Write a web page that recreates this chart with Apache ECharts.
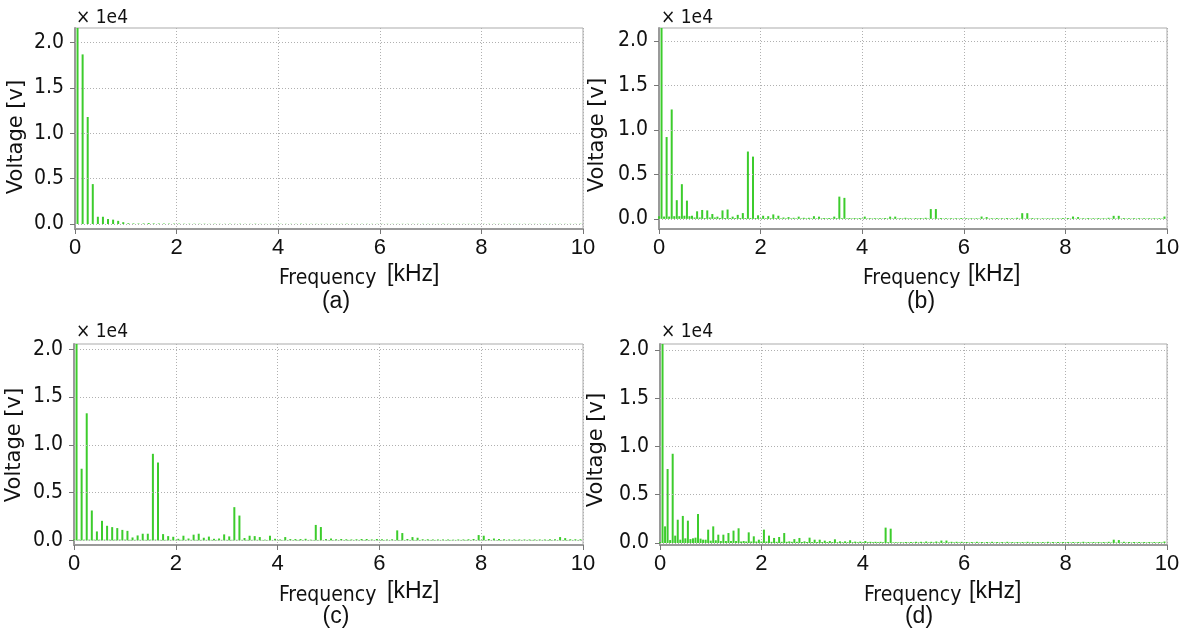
<!DOCTYPE html>
<html>
<head>
<meta charset="utf-8">
<script src="https://cdn.jsdelivr.net/npm/echarts@6/dist/echarts.min.js"></script>
<style>
html,body{margin:0;padding:0;background:#ffffff;}
#chart{width:1192px;height:631px;}
</style>
</head>
<body>
<div id="chart"></div>
<script>
// ---------------- DATA ----------------
// Harmonic grid: one bin every 0.05 kHz (50 Hz), 200 bins from 0 to 9.95 kHz.
const binStepKHz = 0.05;
// Values are in units of 1e4 V (as shown by the "× 1e4" axis multiplier).
// Each row below covers 1 kHz (20 bins).
const spectrumA = [
  0,2.5,0,1.87,0,1.18,0,0.44,0,0.08,0,0.08,0,0.055,0,0.048,0,0.035,0,0.02,
  0,0.008,0,0.006,0,0.005,0,0.006,0,0.01,0,0.006,0,0.005,0,0.005,0,0.004,0,0.004,
  0,0.004,0,0.003,0,0.003,0,0.003,0,0.003,0,0.003,0,0.002,0,0.003,0,0.002,0,0.002,
  0,0.003,0,0.002,0,0.003,0,0.002,0,0.002,0,0.003,0,0.002,0,0.002,0,0.002,0,0.002,
  0,0.002,0,0.002,0,0.002,0,0.002,0,0.003,0,0.002,0,0.002,0,0.002,0,0.002,0,0.002,
  0,0.002,0,0.002,0,0.002,0,0.003,0,0.002,0,0.002,0,0.002,0,0.002,0,0.002,0,0.002,
  0,0.002,0,0.002,0,0.002,0,0.002,0,0.002,0,0.002,0,0.002,0,0.002,0,0.002,0,0.002,
  0,0.002,0,0.002,0,0.003,0,0.002,0,0.002,0,0.002,0,0.002,0,0.002,0,0.002,0,0.002,
  0,0.002,0,0.002,0,0.002,0,0.002,0,0.002,0,0.002,0,0.002,0,0.002,0,0.002,0,0.002,
  0,0.002,0,0.002,0,0.002,0,0.002,0,0.002,0,0.002,0,0.002,0,0.002,0,0.002,0,0.003
];
const spectrumB = [
  0.03,2.5,0.026,0.92,0.026,1.23,0.03,0.21,0.03,0.39,0.035,0.205,0.03,0.035,0.015,0.085,0.015,0.10,0.01,0.095,
  0.015,0.055,0.015,0.025,0.01,0.095,0.01,0.105,0.01,0.025,0.01,0.045,0.01,0.065,0.01,0.757,0.01,0.70,0.01,0.04,
  0.008,0.035,0.008,0.03,0.008,0.05,0.008,0.035,0.006,0.015,0.006,0.02,0.006,0.012,0.006,0.025,0.006,0.012,0.006,0.012,
  0.006,0.03,0.006,0.025,0.006,0.01,0.006,0.01,0.006,0.025,0.008,0.25,0.008,0.236,0.006,0.01,0.005,0.01,0.005,0.01,
  0.005,0.025,0.005,0.008,0.005,0.008,0.005,0.008,0.005,0.01,0.005,0.025,0.005,0.025,0.005,0.008,0.005,0.012,0.005,0.008,
  0.005,0.01,0.005,0.01,0.005,0.012,0.005,0.11,0.005,0.11,0.005,0.01,0.004,0.008,0.004,0.008,0.004,0.008,0.004,0.01,
  0.004,0.008,0.004,0.008,0.004,0.008,0.004,0.026,0.004,0.02,0.004,0.008,0.004,0.01,0.004,0.008,0.004,0.01,0.004,0.008,
  0.004,0.012,0.004,0.064,0.004,0.064,0.004,0.01,0.004,0.008,0.004,0.008,0.004,0.008,0.004,0.008,0.004,0.008,0.004,0.01,
  0.004,0.01,0.004,0.026,0.004,0.02,0.004,0.008,0.004,0.01,0.004,0.008,0.004,0.01,0.004,0.008,0.004,0.012,0.004,0.034,
  0.004,0.034,0.004,0.01,0.004,0.008,0.004,0.008,0.004,0.008,0.004,0.008,0.004,0.008,0.004,0.008,0.004,0.008,0.004,0.026
];
const spectrumC = [
  0.01,2.5,0.008,0.75,0.008,1.33,0.008,0.313,0.008,0.094,0.008,0.205,0.008,0.153,0.008,0.139,0.008,0.129,0.008,0.11,
  0.008,0.10,0.006,0.031,0.006,0.052,0.006,0.07,0.006,0.07,0.008,0.906,0.008,0.815,0.006,0.066,0.006,0.045,0.006,0.038,
  0.006,0.017,0.006,0.049,0.006,0.02,0.006,0.06,0.006,0.07,0.006,0.028,0.006,0.04,0.006,0.017,0.006,0.02,0.006,0.063,
  0.006,0.042,0.006,0.348,0.006,0.26,0.006,0.025,0.006,0.049,0.006,0.045,0.006,0.035,0.005,0.008,0.005,0.049,0.005,0.017,
  0.005,0.01,0.005,0.035,0.005,0.014,0.005,0.014,0.005,0.014,0.005,0.017,0.005,0.008,0.005,0.162,0.005,0.14,0.005,0.014,
  0.005,0.02,0.005,0.012,0.005,0.015,0.005,0.012,0.005,0.01,0.005,0.012,0.005,0.015,0.005,0.015,0.005,0.01,0.005,0.015,
  0.005,0.012,0.005,0.01,0.005,0.012,0.005,0.105,0.005,0.077,0.005,0.015,0.005,0.035,0.005,0.028,0.005,0.012,0.005,0.012,
  0.005,0.01,0.005,0.01,0.005,0.01,0.005,0.01,0.005,0.008,0.005,0.01,0.005,0.01,0.005,0.012,0.005,0.015,0.005,0.056,
  0.005,0.049,0.005,0.015,0.005,0.02,0.005,0.015,0.005,0.012,0.005,0.01,0.005,0.01,0.005,0.01,0.005,0.01,0.005,0.01,
  0.005,0.01,0.005,0.01,0.005,0.01,0.005,0.012,0.005,0.012,0.005,0.035,0.005,0.024,0.005,0.012,0.005,0.012,0.005,0.012
];
const spectrumD = [
  0.01,2.5,0.172,0.766,0.03,0.924,0.076,0.241,0.034,0.28,0.048,0.231,0.04,0.048,0.055,0.30,0.045,0.034,0.034,0.138,
  0.024,0.172,0.028,0.086,0.02,0.086,0.02,0.103,0.02,0.128,0.02,0.152,0.015,0.02,0.015,0.11,0.015,0.069,0.015,0.034,
  0.015,0.138,0.015,0.076,0.012,0.052,0.012,0.062,0.012,0.103,0.012,0.017,0.012,0.04,0.012,0.052,0.01,0.017,0.01,0.055,
  0.01,0.034,0.01,0.034,0.01,0.024,0.01,0.02,0.01,0.038,0.008,0.017,0.008,0.017,0.008,0.028,0.008,0.014,0.008,0.014,
  0.008,0.02,0.008,0.012,0.008,0.012,0.008,0.012,0.008,0.159,0.008,0.148,0.006,0.008,0.006,0.008,0.006,0.01,0.006,0.01,
  0.006,0.012,0.006,0.012,0.006,0.015,0.006,0.012,0.006,0.015,0.006,0.025,0.006,0.025,0.006,0.012,0.006,0.012,0.006,0.012,
  0.005,0.01,0.005,0.01,0.005,0.012,0.005,0.01,0.005,0.01,0.005,0.012,0.005,0.01,0.005,0.01,0.005,0.012,0.005,0.01,
  0.005,0.01,0.005,0.01,0.005,0.012,0.005,0.01,0.005,0.01,0.005,0.01,0.005,0.012,0.005,0.01,0.005,0.01,0.005,0.01,
  0.005,0.01,0.005,0.01,0.005,0.01,0.005,0.012,0.005,0.01,0.005,0.01,0.005,0.01,0.005,0.01,0.005,0.012,0.005,0.034,
  0.005,0.03,0.005,0.012,0.005,0.01,0.005,0.01,0.005,0.01,0.005,0.01,0.005,0.01,0.005,0.01,0.005,0.01,0.005,0.015
];
const yTickValues = [0, 0.5, 1.0, 1.5, 2.0];
const panelLabels = ['(a)', '(b)', '(c)', '(d)'];
const xAxisTitle = ['Frequency', '[kHz]'];
const yAxisTitle = 'Voltage [v]';
const multiplierText = '\u00d7 1e4';

// ---------------- LAYOUT ----------------
const GREEN = '#3ccc2c';
const FONT_T = '"DejaVu Sans Condensed","DejaVu Sans",sans-serif';
const FONT_V = '"DejaVu Sans",sans-serif';
const FONT_A = '"Liberation Sans",Arial,sans-serif';
const panels = [
  {vals: spectrumA, grid: {left: 75,  top: 28,  width: 508, height: 201}, yMin: -0.055, yMax: 2.161,
   mult: [76, 18], yName: [17, 137], fx: [279, 279], kx: [387, 275], lab: [336, 302]},
  {vals: spectrumB, grid: {left: 659, top: 28,  width: 508, height: 201}, yMin: -0.114, yMax: 2.146,
   mult: [661, 18], yName: [598, 135], fx: [863, 279], kx: [968, 275], lab: [921, 302]},
  {vals: spectrumC, grid: {left: 74,  top: 344, width: 509, height: 201}, yMin: -0.048, yMax: 2.055,
   mult: [76, 332], yName: [15, 445], fx: [279, 596], kx: [387, 592], lab: [336, 617]},
  {vals: spectrumD, grid: {left: 660, top: 344, width: 507, height: 201}, yMin: -0.021, yMax: 2.061,
   mult: [661, 332], yName: [597, 450], fx: [864, 596], kx: [969, 592], lab: [919, 617]}
];

const grids = [], xAxes = [], yAxes = [], series = [], graphics = [];
panels.forEach((p, k) => {
  grids.push(Object.assign({show: true, borderColor: '#ababab', borderWidth: 1, backgroundColor: 'transparent'}, p.grid));
  xAxes.push({
    type: 'value', gridIndex: k, min: 0, max: 10, interval: 2,
    axisLine: {show: true, onZero: false, lineStyle: {color: '#9a9a9a', width: 2}},
    axisTick: {show: true, inside: false, length: 5, lineStyle: {color: '#777'}},
    axisLabel: {fontSize: 22, fontFamily: FONT_A, color: '#111', margin: 8},
    splitLine: {show: true, lineStyle: {color: '#b0b0b0', type: [1, 2], width: 1}}
  });
  yAxes.push({
    type: 'value', gridIndex: k, min: p.yMin, max: p.yMax,
    axisLine: {show: true, onZero: false, lineStyle: {color: '#9a9a9a', width: 2}},
    axisTick: {show: true, inside: false, length: 5, customValues: yTickValues, lineStyle: {color: '#777'}},
    axisLabel: {customValues: yTickValues, formatter: v => Number(v).toFixed(1),
                fontSize: 21, fontFamily: FONT_T, color: '#111', margin: 11},
    splitLine: {show: false}
  });
  series.push({
    type: 'bar', xAxisIndex: k, yAxisIndex: k, clip: true, barWidth: 2,
    itemStyle: {color: GREEN},
    data: p.vals.map((v, i) => [Number((i * binStepKHz).toFixed(2)), v]),
    markLine: {
      silent: true, symbol: ['none', 'none'], label: {show: false}, animation: false,
      lineStyle: {color: '#b0b0b0', type: [1, 2], width: 1},
      data: yTickValues.map(v => ({yAxis: v}))
    },
    z: 3
  });
  graphics.push(
    {type: 'text', x: p.mult[0], y: p.mult[1], style: {text: multiplierText, font: '19px ' + FONT_T, fill: '#111', textAlign: 'left', textVerticalAlign: 'middle'}},
    {type: 'text', x: p.yName[0], y: p.yName[1], rotation: Math.PI / 2, style: {text: yAxisTitle, font: '21px ' + FONT_V, fill: '#111', textAlign: 'center', textVerticalAlign: 'middle'}},
    {type: 'text', x: p.fx[0], y: p.fx[1], style: {text: xAxisTitle[0], font: '21px ' + FONT_T, fill: '#111', textAlign: 'left', textVerticalAlign: 'middle'}},
    {type: 'text', x: p.kx[0], y: p.kx[1], style: {text: xAxisTitle[1], font: '23px ' + FONT_A, fill: '#111', textAlign: 'left', textVerticalAlign: 'middle'}},
    {type: 'text', x: p.lab[0], y: p.lab[1], style: {text: panelLabels[k], font: '23px ' + FONT_A, fill: '#111', textAlign: 'center', textVerticalAlign: 'middle'}}
  );
});

const chart = echarts.init(document.getElementById('chart'), null, {renderer: 'canvas'});
chart.setOption({
  animation: false,
  backgroundColor: '#ffffff',
  grid: grids,
  xAxis: xAxes,
  yAxis: yAxes,
  series: series,
  graphic: graphics
});
</script>
</body>
</html>
